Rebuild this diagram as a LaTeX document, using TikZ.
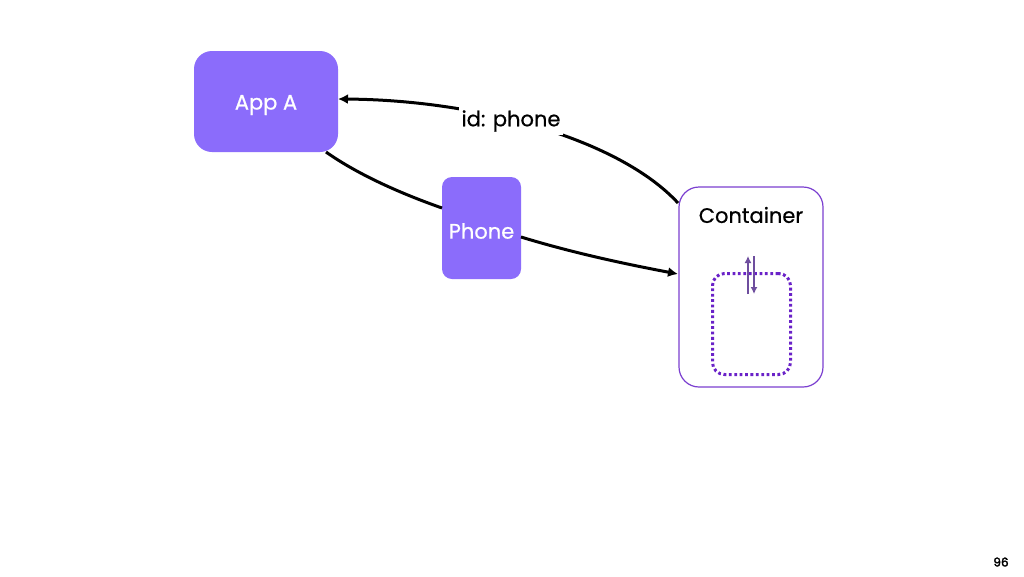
\documentclass[tikz,border=0pt]{standalone}
\usepackage{fontspec}
\setmainfont{Poppins}[FakeBold=0.6]
\newfontfamily\boldpop{Poppins}[FakeBold=2.5]
\usetikzlibrary{arrows.meta}
\definecolor{appc}{HTML}{8B6CFB}
\definecolor{contc}{HTML}{7B3FD0}
\definecolor{dotc}{HTML}{6A22C8}
\definecolor{arrc}{HTML}{6E4E9E}
\tikzset{
  appbox/.style={fill=appc, draw=none, rounded corners=18pt, text=white, font=\fontsize{21}{24}\selectfont, inner sep=0pt},
  conn/.style={draw=black, line width=3pt, -{Latex[length=10pt,width=10pt]}},
  plain/.style={draw=black, line width=3pt},
}
\begin{document}
\begin{tikzpicture}[x=1pt,y=-1pt]
\useasboundingbox[fill=white] (0,0) rectangle (1024,576);
\node[appbox, minimum width=144pt, minimum height=101pt, text depth=0pt, text height=0pt] (appa) at (266,101.5) {};
\node[text=white, font=\fontsize{21}{24}\selectfont] (appt) at (266,105) {App A};
\node[appbox, rounded corners=10pt, minimum width=79pt, minimum height=102pt] (phone) at (481.5,228) {};
\node[text=white, font=\fontsize{21}{24}\selectfont] (phonet) at (481.5,231) {Phone};
\node[draw=contc, line width=1.2pt, rounded corners=20pt, fill=white, minimum width=144pt, minimum height=200pt, inner sep=0pt] (cont) at (751,287) {};
\node[font=\fontsize{21}{24}\selectfont] (ctext) at (751,215) {Container};
\node[draw=dotc, line width=3pt, dash pattern=on 2.8pt off 2.6pt, rounded corners=12pt, minimum width=78pt, minimum height=101pt, inner sep=0pt] (inner) at (751.5,324) {};
\coordinate (ua) at (748,294);
\coordinate (ub) at (748,256);
\coordinate (da) at (754,256);
\coordinate (db) at (754,294);
\draw[arrc, line width=2pt, -{Latex[length=7pt,width=7pt]}] (ua) -- (ub);
\draw[arrc, line width=2pt, -{Latex[length=7pt,width=7pt]}] (da) -- (db);
% curve container -> App A
\coordinate (c1) at (678,203);
\coordinate (a1) at (338,99);
\draw[conn] (c1) .. controls (620,140) and (480,100) .. (a1);
\node[fill=white, font=\fontsize{21}{24}\selectfont, inner sep=3pt] (lbl) at (511,121) {id: phone};
% App A -> Phone -> container
\coordinate (a2) at (326,152);
\coordinate (p1) at (442,208);
\draw[plain] (a2) .. controls (360,176) and (405,195) .. (p1);
\coordinate (p2) at (521,237);
\coordinate (c2) at (678,274);
\draw[conn] (p2) .. controls (570,252) and (620,263) .. (c2);
\node[font=\boldpop\fontsize{12}{14}\selectfont] (pg) at (1001,562) {96};
\end{tikzpicture}
\end{document}
